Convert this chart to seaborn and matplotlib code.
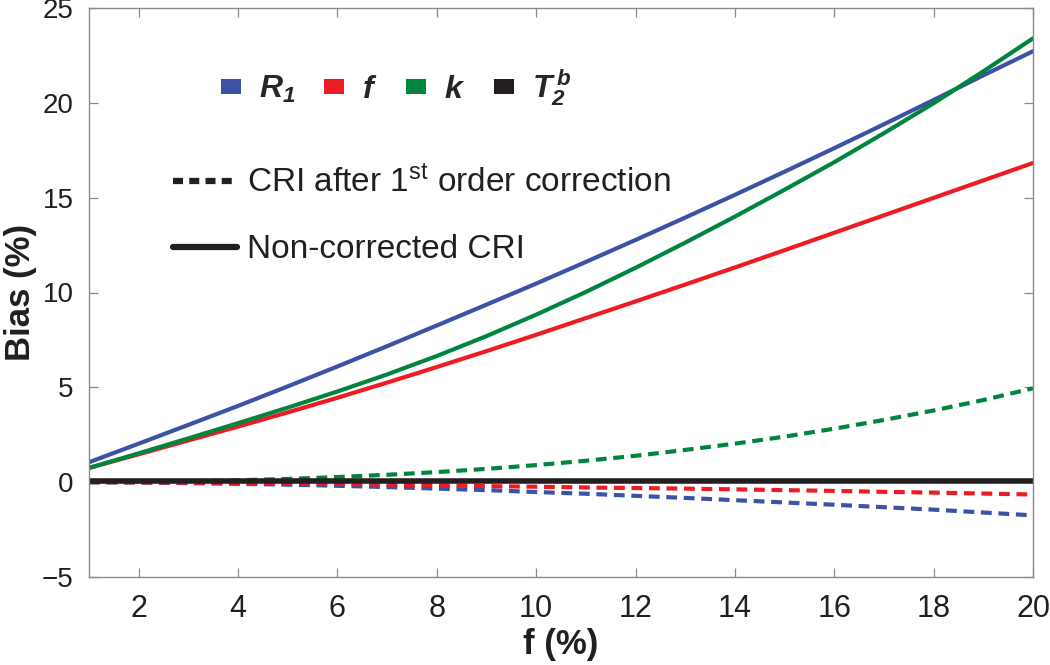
import matplotlib
matplotlib.use("Agg")
import matplotlib.pyplot as plt
from matplotlib import font_manager
from matplotlib.patches import Patch
from matplotlib.lines import Line2D
import numpy as np
import pandas as pd
import seaborn as sns

# ── data ──────────────────────────────────────────────────────────────────────
F = list(range(1, 21))

# non-corrected CRI (solid)
R1_SOLID = [1.05, 2.03, 3.02, 4.02, 5.05, 6.1, 7.17, 8.26, 9.36, 10.47,
            11.61, 12.77, 13.95, 15.15, 16.37, 17.61, 18.87, 20.15, 21.45, 22.72]
F_SOLID = [0.75, 1.47, 2.2, 2.93, 3.68, 4.45, 5.25, 6.07, 6.91, 7.77,
           8.65, 9.53, 10.42, 11.32, 12.23, 13.15, 14.07, 14.99, 15.91, 16.83]
K_SOLID = [0.75, 1.52, 2.31, 3.11, 3.93, 4.78, 5.68, 6.65, 7.70, 8.83,
           10.03, 11.30, 12.63, 14.0, 15.42, 16.87, 18.40, 19.98, 21.66, 23.40]
T2B_SOLID = [0.05] * 20

# CRI after 1st order correction (dashed)
R1_DASH = [0.0, -0.02, -0.05, -0.09, -0.13, -0.19, -0.26, -0.34, -0.42, -0.52,
           -0.61, -0.72, -0.83, -0.95, -1.07, -1.19, -1.32, -1.45, -1.6, -1.75]
F_DASH = [0.0, -0.01, -0.03, -0.04, -0.07, -0.09, -0.13, -0.16, -0.21, -0.24,
          -0.28, -0.31, -0.34, -0.38, -0.42, -0.46, -0.51, -0.55, -0.6, -0.65]
K_DASH = [0.0, 0.02, 0.05, 0.1, 0.17, 0.27, 0.39, 0.53, 0.7, 0.9,
          1.13, 1.39, 1.7, 2.03, 2.4, 2.82, 3.28, 3.78, 4.33, 4.95]

PARAMS = ["R1", "f", "k", "T2b"]
COLORS = {"R1": "#3a53a4", "f": "#ed1c24", "k": "#00853f", "T2b": "#231f20"}
LABELS = [r"$R_1$", r"$f$", r"$k$", r"$T_2^{\,b}$"]

X_TICKS = list(range(2, 21, 2))
Y_TICKS = list(range(-5, 26, 5))

# ── long-form table ───────────────────────────────────────────────────────────
rows = []
for name, vals, kind in [("R1", R1_DASH, "dash"), ("f", F_DASH, "dash"),
                         ("k", K_DASH, "dash"),
                         ("R1", R1_SOLID, "solid"), ("f", F_SOLID, "solid"),
                         ("k", K_SOLID, "solid"), ("T2b", T2B_SOLID, "solid")]:
    for x, y in zip(F, vals):
        rows.append({"f": x, "bias": y, "param": name, "kind": kind})
df = pd.DataFrame(rows)

# ── fonts ─────────────────────────────────────────────────────────────────────
sns.set_theme(style="ticks")
names = {f.name for f in font_manager.fontManager.ttflist}
SANS = "Liberation Sans" if "Liberation Sans" in names else "DejaVu Sans"
NARROW = "Liberation Sans Narrow" if "Liberation Sans Narrow" in names else SANS
plt.rcParams["font.family"] = [SANS, "DejaVu Sans"]
plt.rcParams["mathtext.fontset"] = "custom"
plt.rcParams["mathtext.it"] = f"{SANS}:italic:bold"
plt.rcParams["mathtext.rm"] = f"{SANS}:italic:bold"
plt.rcParams["mathtext.bf"] = f"{SANS}:italic:bold"

INK = "#231f20"
SPINE = "#8a8a8a"

fig = plt.figure(figsize=(10.5, 6.65), dpi=100)
ax = fig.add_axes([89 / 1050, 1 - 577 / 665, 944 / 1050, 569 / 665])

# dashed first, then solid, black zero line on top
for kind, dashes, lw in [("dash", (2.6, 1.6), 3.0), ("solid", "", 3.0)]:
    sub = df[df["kind"] == kind]
    for p in PARAMS:
        part = sub[sub["param"] == p]
        if part.empty:
            continue
        sns.lineplot(data=part, x="f", y="bias", color=COLORS[p], ax=ax,
                     linewidth=4.0 if p == "T2b" else lw,
                     dashes=False, legend=False, estimator=None, sort=False)
        if kind == "dash":
            ax.lines[-1].set_dashes(dashes)
            ax.lines[-1].set_dash_capstyle("butt")

ax.set_xlim(1, 20)
ax.set_ylim(-5, 25)
ax.set_xticks(X_TICKS)
ax.set_yticks(Y_TICKS)
ax.set_yticklabels([str(v).replace("-", "\u2212") for v in Y_TICKS])

for s in ax.spines.values():
    s.set_visible(True)
    s.set_color(SPINE)
    s.set_linewidth(1.0)
ax.tick_params(direction="in", length=6.5, width=0.9, color=SPINE,
               top=True, right=True, labelcolor=INK)
ax.tick_params(axis="y", pad=11, labelsize=20)
ax.tick_params(axis="x", pad=12, labelsize=22)
for lab in ax.get_xticklabels():
    lab.set_family([NARROW, "DejaVu Sans"])

ax.set_xlabel("f (%)", fontsize=25, fontweight="bold", color=INK,
              family=[NARROW, "DejaVu Sans"])
ax.set_ylabel("Bias (%)", fontsize=25, fontweight="bold", color=INK)
ax.xaxis.set_label_coords(0.5, -0.09)
ax.yaxis.set_label_coords(-0.055, 0.5)

# ── legends ───────────────────────────────────────────────────────────────────
patches = [Patch(facecolor=COLORS[p], edgecolor="none") for p in PARAMS]
leg1 = fig.legend(patches, LABELS, ncol=4, frameon=False, loc="upper left",
                  bbox_to_anchor=(221 / 1050, 1 - 68 / 665), borderpad=0,
                  borderaxespad=0, handlelength=0.63, handleheight=0.31,
                  handletextpad=0.56, columnspacing=0.9,
                  prop={"size": 23})

lines = [Line2D([], [], color=INK, lw=4.5, dashes=(1.6, 1.0),
                dash_capstyle="butt"),
         Line2D([], [], color=INK, lw=4.5)]
leg2 = fig.legend(lines, [r"CRI after 1$^{\mathregular{st}}$ order correction",
                          "Non-corrected CRI"],
                  frameon=False, loc="upper left",
                  bbox_to_anchor=(173 / 1050, 1 - 166 / 665), borderpad=0,
                  borderaxespad=0, handlelength=1.92, handletextpad=0.3,
                  labelspacing=1.05, prop={"size": 24})
for t in leg2.get_texts():
    t.set_color(INK)

fig.savefig("out.png", dpi=100)
